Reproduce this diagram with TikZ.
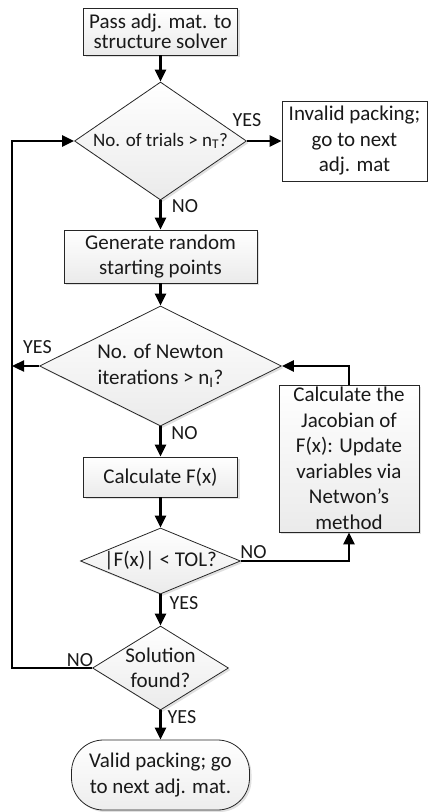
\documentclass[tikz,border=0pt]{standalone}
\usepackage{fontspec}
\setmainfont{Carlito}
\usetikzlibrary{arrows.meta,shapes.geometric,shadows}
\begin{document}
\begin{tikzpicture}[x=1pt,y=-1pt,
  shd/.style={drop shadow={shadow xshift=2pt,shadow yshift=-2pt,opacity=.35,fill=gray!70}},
  box/.style={rectangle,draw=black!85,line width=0.8pt,top color=white,bottom color=gray!16,shd,
    align=center,inner sep=0pt,text=black!90,font=\fontsize{21}{25.5}\selectfont},
  plainbox/.style={rectangle,draw=black!85,line width=0.8pt,fill=white,
    align=center,inner sep=0pt,text=black!90,font=\fontsize{21}{25.5}\selectfont},
  dia/.style={diamond,draw=black!85,line width=0.8pt,top color=white,bottom color=gray!16,shd,inner sep=0pt},
  dtxt/.style={align=center,inner sep=0pt,text=black!90,font=\fontsize{21}{25.5}\selectfont},
  term/.style={rectangle,rounded corners=32pt,draw=black!85,line width=0.8pt,top color=white,bottom color=gray!14,shd,
    align=center,inner sep=0pt,text=black!90,font=\fontsize{21}{25.5}\selectfont},
  lab/.style={inner sep=0pt,text=black!90,font=\fontsize{20}{24}\selectfont},
  conn/.style={line width=2.3pt,line join=miter,-{Triangle[length=12pt,width=11pt]}}]
\useasboundingbox (0,0) rectangle (428,812);

\node[box,minimum width=154,minimum height=47,font=\fontsize{21}{20}\selectfont] (b1) at (160.5,31.5) {Pass adj. mat. to\\structure solver};
\node[dia,minimum width=172,minimum height=118] (d1) at (160.5,141) {};
\node[dtxt,font=\fontsize{19}{23}\selectfont] (d1t) at (d1) {No. of trials > n\textsubscript{T}?};
\node[plainbox,minimum width=145,minimum height=80] (inv) at (354.5,141) {Invalid packing;\\go to next\\adj. mat};
\node[box,minimum width=193,minimum height=53] (b2) at (160.5,256.5) {Generate random\\starting points};
\node[dia,minimum width=242,minimum height=120] (d2) at (160.5,366) {};
\node[dtxt] (d2t) at (d2) {No. of Newton\\iterations > n\textsubscript{I}?};
\node[box,minimum width=154,minimum height=40] (b3) at (160.5,477) {Calculate F(x)};
\node[dia,minimum width=160,minimum height=66] (d3) at (160.5,561) {};
\node[dtxt] (d3t) at (d3) {|F(x)| < TOL?};
\node[dia,minimum width=136,minimum height=84] (d4) at (160.5,668) {};
\node[dtxt] (d4t) at (d4) {Solution\\found?};
\node[term,minimum width=178,minimum height=70] (t) at (160.5,775) {Valid packing; go\\to next adj. mat.};
\node[box,minimum width=140,minimum height=147] (jac) at (349,458.5) {Calculate the\\Jacobian of\\F(x): Update\\variables via\\Netwon’s\\method};
\coordinate (L) at (12,0);

\draw[conn] (b1.south) -- (d1.north);
\draw[conn] (d1.east) -- (inv.west);
\draw[conn] (d1.south) -- (b2.north);
\draw[conn] (b2.south) -- (d2.north);
\draw[conn] (d2.south) -- (b3.north);
\draw[conn] (b3.south) -- (d3.north);
\draw[conn] (d3.south) -- (d4.north);
\draw[conn] (d4.south) -- (t.north);
\draw[conn] (d3.east) -| (jac.south);
\draw[conn] (jac.north) |- (d2.east);
\draw[conn] (d2.west) -- (d2.west -| L);
\draw[conn] (d4.west) -- (d4.west -| L) -- (d1.west -| L) -- (d1.west);

\node[lab] (y1) at (247,120) {YES};
\node[lab] (n1) at (185,206) {NO};
\node[lab] (y2) at (37.5,347) {YES};
\node[lab] (n2) at (184.5,433) {NO};
\node[lab] (n3) at (253.5,552) {NO};
\node[lab] (y3) at (184,603) {YES};
\node[lab] (n4) at (80,660) {NO};
\node[lab] (y4) at (182,717) {YES};
\end{tikzpicture}
\end{document}
